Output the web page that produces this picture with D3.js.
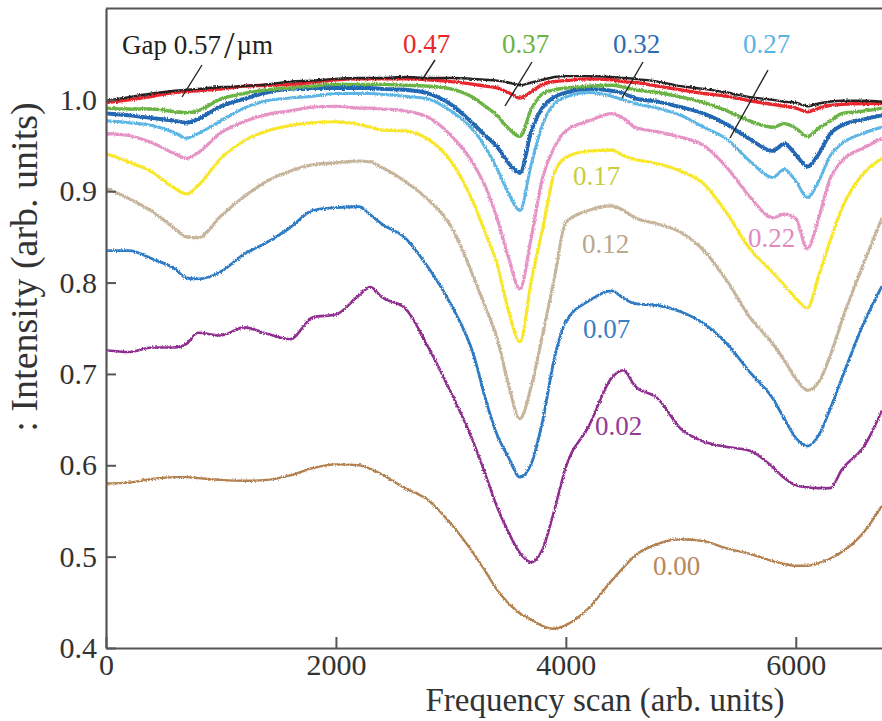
<!DOCTYPE html>
<html>
<head>
<meta charset="utf-8">
<script src="https://cdn.jsdelivr.net/npm/d3@7"></script>
<style>
  html, body { margin: 0; padding: 0; background: #fff; }
  svg { display: block; }
  text { font-family: "Liberation Serif", "Times New Roman", serif; }
</style>
</head>
<body>
<svg id="chart" width="882" height="721"></svg>
<script>
// Frequency scan positions (arb. units) shared by every trace
const freq = [0,200,400,600,700,800,1000,1200,1400,1600,1800,2000,2200,2300,2400,2600,2800,3000,3200,3300,3400,3500,3600,3700,3800,3900,4000,4200,4400,4500,4600,4800,5000,5200,5400,5600,5800,5900,6000,6100,6200,6300,6400,6600,6750];

// Transmitted intensity for each gap (µm)
const gap000 = [0.580,0.581,0.585,0.587,0.587,0.586,0.584,0.583,0.584,0.589,0.597,0.601,0.600,0.596,0.590,0.575,0.562,0.536,0.503,0.484,0.464,0.449,0.438,0.431,0.424,0.421,0.425,0.444,0.474,0.488,0.501,0.514,0.519,0.517,0.509,0.503,0.495,0.492,0.490,0.490,0.493,0.498,0.505,0.528,0.556];
const gap002 = [0.726,0.724,0.729,0.729,0.733,0.745,0.742,0.751,0.744,0.738,0.762,0.765,0.786,0.795,0.784,0.772,0.730,0.680,0.624,0.590,0.555,0.527,0.504,0.494,0.509,0.551,0.598,0.643,0.696,0.704,0.687,0.673,0.640,0.626,0.620,0.616,0.598,0.586,0.578,0.576,0.575,0.575,0.595,0.622,0.660];
const gap007 = [0.835,0.835,0.826,0.815,0.805,0.804,0.812,0.831,0.844,0.860,0.879,0.882,0.883,0.874,0.864,0.849,0.817,0.776,0.720,0.673,0.634,0.609,0.587,0.602,0.650,0.717,0.757,0.780,0.791,0.783,0.777,0.775,0.768,0.755,0.733,0.702,0.673,0.651,0.630,0.621,0.633,0.662,0.695,0.758,0.796];
const gap012 = [0.903,0.892,0.878,0.859,0.850,0.849,0.873,0.894,0.911,0.922,0.929,0.931,0.933,0.932,0.926,0.911,0.891,0.862,0.805,0.773,0.740,0.689,0.651,0.687,0.744,0.805,0.866,0.879,0.884,0.879,0.871,0.864,0.855,0.835,0.802,0.762,0.733,0.715,0.695,0.682,0.691,0.720,0.758,0.824,0.871];
const gap017 = [0.941,0.932,0.921,0.903,0.897,0.906,0.936,0.955,0.966,0.972,0.975,0.976,0.973,0.970,0.967,0.966,0.957,0.933,0.886,0.854,0.821,0.770,0.735,0.802,0.860,0.920,0.937,0.944,0.945,0.939,0.935,0.930,0.922,0.908,0.876,0.837,0.811,0.797,0.783,0.772,0.808,0.846,0.881,0.921,0.936];
const gap022 = [0.963,0.961,0.953,0.941,0.936,0.942,0.964,0.976,0.984,0.988,0.992,0.993,0.991,0.991,0.990,0.988,0.981,0.961,0.929,0.905,0.871,0.828,0.793,0.850,0.916,0.948,0.966,0.977,0.985,0.980,0.970,0.965,0.959,0.950,0.926,0.894,0.871,0.875,0.870,0.837,0.871,0.914,0.933,0.948,0.958];
const gap027 = [0.977,0.975,0.972,0.964,0.958,0.963,0.977,0.991,0.999,1.002,1.004,1.007,1.007,1.007,1.006,1.004,1.001,0.988,0.966,0.948,0.925,0.898,0.879,0.930,0.974,0.996,1.003,1.008,1.004,1.000,0.996,0.991,0.983,0.970,0.957,0.933,0.915,0.924,0.911,0.893,0.911,0.939,0.952,0.964,0.970];
const gap032 = [0.985,0.983,0.980,0.977,0.975,0.979,0.993,1.001,1.008,1.012,1.013,1.013,1.013,1.013,1.012,1.011,1.007,0.995,0.973,0.961,0.949,0.931,0.920,0.966,0.992,1.003,1.008,1.012,1.010,1.007,1.002,0.998,0.992,0.985,0.973,0.957,0.944,0.952,0.940,0.927,0.941,0.963,0.972,0.979,0.983];
const gap037 = [0.991,0.990,0.990,0.987,0.986,0.988,1.001,1.007,1.011,1.013,1.015,1.017,1.017,1.017,1.017,1.016,1.015,1.012,1.002,0.993,0.983,0.969,0.960,0.990,1.007,1.011,1.013,1.015,1.016,1.014,1.011,1.008,1.003,0.997,0.988,0.977,0.970,0.974,0.969,0.960,0.969,0.977,0.985,0.988,0.991];
const gap047 = [0.997,1.000,1.004,1.008,1.009,1.010,1.012,1.015,1.016,1.017,1.019,1.022,1.023,1.023,1.023,1.023,1.022,1.020,1.017,1.015,1.013,1.008,1.002,1.009,1.017,1.020,1.021,1.023,1.022,1.020,1.019,1.015,1.011,1.007,1.004,0.999,0.995,0.993,0.991,0.987,0.991,0.994,0.995,0.996,0.996];
const gap057 = [0.999,1.003,1.007,1.010,1.011,1.012,1.014,1.015,1.017,1.020,1.021,1.023,1.024,1.024,1.024,1.025,1.024,1.024,1.023,1.022,1.021,1.019,1.016,1.019,1.022,1.025,1.026,1.026,1.025,1.024,1.023,1.020,1.015,1.012,1.008,1.003,1.000,0.998,0.997,0.993,0.996,0.998,0.999,0.999,0.998];

const gapLabels = ["0.00","0.02","0.07","0.12","0.17","0.22","0.27","0.32","0.37","0.47","0.57"];
const xTicks = [0, 2000, 4000, 6000];
const yTicks = [0.4, 0.5, 0.6, 0.7, 0.8, 0.9, 1.0];
const xTitle = "Frequency scan (arb. units)";
const yTitle = ": Intensity (arb. units)";

const traces = [
  { values: gap000, color: "#b3804f", width: 2.4 },
  { values: gap002, color: "#8e2d8f", width: 2.6 },
  { values: gap007, color: "#2d7ac3", width: 2.8 },
  { values: gap012, color: "#c6b59b", width: 3.1 },
  { values: gap017, color: "#f8e62c", width: 3.1 },
  { values: gap022, color: "#e693c6", width: 3.2 },
  { values: gap027, color: "#5cb5e4", width: 3.0 },
  { values: gap032, color: "#2467b3", width: 3.9 },
  { values: gap037, color: "#6cb345", width: 3.4 },
  { values: gap047, color: "#e8282d", width: 3.4 },
  { values: gap057, color: "#262224", width: 2.4 }
];

// Label placement (text start x, baseline y) and colour for each gap value
const labelStyle = {
  "0.00": { x: 653, y: 575, color: "#b8875a" },
  "0.02": { x: 595, y: 435, color: "#933a97" },
  "0.07": { x: 583, y: 338, color: "#3a7fc4" },
  "0.12": { x: 582, y: 253, color: "#b8a88e" },
  "0.17": { x: 573, y: 185, color: "#c8cd3d" },
  "0.22": { x: 748, y: 247, color: "#e28ac0" },
  "0.27": { x: 743, y: 53,  color: "#5ab4e4", leader: [[768, 70], [730, 138]] },
  "0.32": { x: 613, y: 53,  color: "#2e6db4", leader: [[643, 62], [622, 98]] },
  "0.37": { x: 502, y: 53,  color: "#6db33f", leader: [[532, 62], [505, 106]] },
  "0.47": { x: 403, y: 53,  color: "#e8262b", leader: [[435, 60], [422, 80]] },
  "0.57": { x: 122, y: 54,  color: "#231f20", leader: [[202, 65], [182, 97]] }
};

const W = 882, H = 721;
const plot = { left: 106, right: 882, top: 8.5, bottom: 648 };

const x = d3.scaleLinear().domain([0, 6750]).range([plot.left, plot.right]);
const y = d3.scaleLinear().domain([0.4, 1.1]).range([plot.bottom, plot.top]);

const svg = d3.select("#chart");
const defs = svg.append("defs");

defs.append("clipPath").attr("id", "plotClip")
  .append("rect")
  .attr("x", plot.left).attr("y", plot.top)
  .attr("width", plot.right - plot.left).attr("height", plot.bottom - plot.top);

// Fine detector noise on the traces
const jitter = defs.append("filter").attr("id", "jitter")
  .attr("filterUnits", "userSpaceOnUse")
  .attr("x", 0).attr("y", 0).attr("width", W).attr("height", H);
jitter.append("feTurbulence")
  .attr("type", "fractalNoise").attr("baseFrequency", "0.9 0.6")
  .attr("numOctaves", 1).attr("seed", 7).attr("result", "noise");
jitter.append("feDisplacementMap")
  .attr("in", "SourceGraphic").attr("in2", "noise")
  .attr("scale", 3.4).attr("xChannelSelector", "R").attr("yChannelSelector", "G");

const line = d3.line()
  .x((d, i) => x(freq[i]))
  .y(d => y(d))
  .curve(d3.curveMonotoneX);

const curves = svg.append("g")
  .attr("clip-path", "url(#plotClip)")
  .append("g")
  .attr("filter", "url(#jitter)");

curves.selectAll("path")
  .data(traces)
  .join("path")
  .attr("d", d => line(d.values))
  .attr("fill", "none")
  .attr("stroke", d => d.color)
  .attr("stroke-width", d => d.width)
  .attr("stroke-linejoin", "round");

// Axes
const axisColor = "#555";
const xAxis = d3.axisBottom(x)
  .tickValues(xTicks)
  .tickFormat(d3.format("d"))
  .tickSizeInner(-11).tickSizeOuter(0).tickPadding(6);
const yAxis = d3.axisLeft(y)
  .tickValues(yTicks)
  .tickFormat(d3.format(".1f"))
  .tickSizeInner(-10).tickSizeOuter(0).tickPadding(9);

const gx = svg.append("g").attr("transform", `translate(0,${plot.bottom})`).call(xAxis);
const gy = svg.append("g").attr("transform", `translate(${plot.left},0)`).call(yAxis);

[gx, gy].forEach(g => {
  g.select(".domain").attr("stroke", axisColor).attr("stroke-width", 2.2);
  g.selectAll(".tick line").attr("stroke", axisColor).attr("stroke-width", 2);
  g.selectAll(".tick text")
    .attr("fill", "#333")
    .style("font-family", '"Liberation Serif", "Times New Roman", serif')
    .style("font-size", "30px");
});

// Top frame line
svg.append("line")
  .attr("x1", plot.left).attr("x2", plot.right)
  .attr("y1", plot.top).attr("y2", plot.top)
  .attr("stroke", axisColor).attr("stroke-width", 2.2);

// Axis titles
svg.append("text")
  .attr("x", 605).attr("y", 711)
  .attr("text-anchor", "middle")
  .attr("fill", "#333")
  .style("font-size", "33px")
  .text(xTitle);

svg.append("text")
  .attr("transform", "translate(37,267) rotate(-90)")
  .attr("text-anchor", "middle")
  .attr("fill", "#333")
  .style("font-size", "38px")
  .text(yTitle);

// Gap labels and leader lines
const labelG = svg.append("g");
gapLabels.forEach(lbl => {
  const s = labelStyle[lbl];
  if (s.leader) {
    labelG.append("line")
      .attr("x1", s.leader[0][0]).attr("y1", s.leader[0][1])
      .attr("x2", s.leader[1][0]).attr("y2", s.leader[1][1])
      .attr("stroke", "#222").attr("stroke-width", 1.4);
  }
  const t = labelG.append("text")
    .attr("x", s.x).attr("y", s.y)
    .attr("fill", s.color)
    .style("font-size", "27px");
  if (lbl === "0.57") {
    t.append("tspan").text("Gap " + lbl);
    t.append("tspan").attr("dx", 3).style("font-size", "38px").attr("dy", 4).text("/");
    t.append("tspan").attr("dx", 2).attr("dy", -4).text("µm");
  } else {
    t.text(lbl);
  }
});
</script>
</body>
</html>
